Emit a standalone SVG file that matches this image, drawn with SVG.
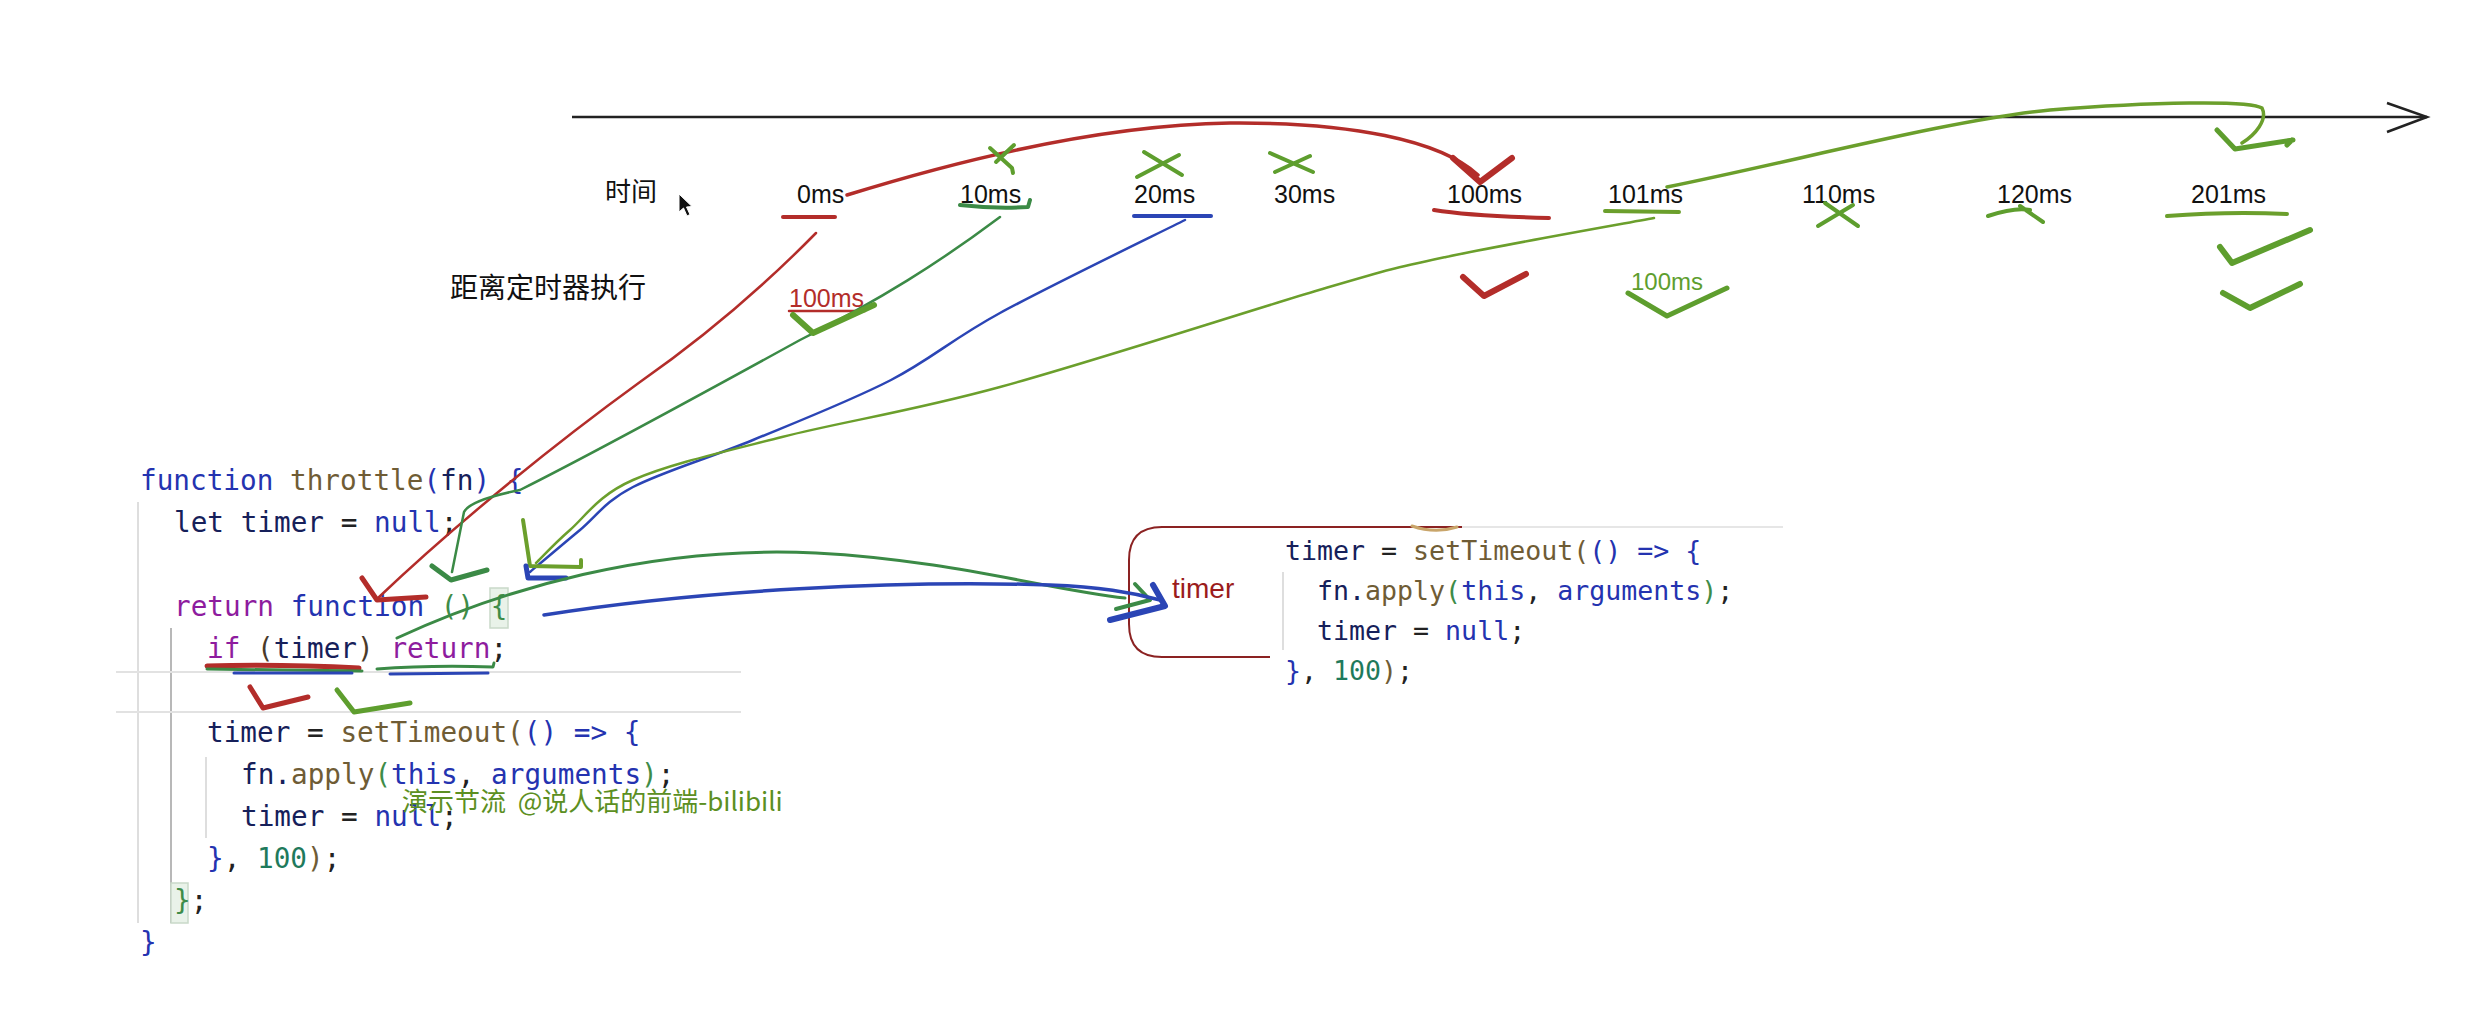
<svg xmlns="http://www.w3.org/2000/svg" width="2468" height="1016" viewBox="0 0 2468 1016">
<style>
.lbl{font-family:"Liberation Sans",Arial,sans-serif;font-size:25px;fill:#111}
.cjk{font-family:"Noto Sans CJK SC","Noto Sans",sans-serif;fill:#111}
.code{font-family:"DejaVu Sans Mono","Liberation Mono",monospace;font-size:27.7px;fill:#222}
.code2{font-family:"DejaVu Sans Mono","Liberation Mono",monospace;font-size:26.6px;fill:#222}
.b{fill:#2433b0}.n{fill:#16205a}.p{fill:#8e1c9e}.br{fill:#6f5c35}.g{fill:#3e8c48}.t{fill:#1f7a5c}.k{fill:#222}.dp{fill:#4a3a2a}
.s{fill:none;stroke-linecap:round;stroke-linejoin:round}
.red{stroke:#b32d2a}.dg{stroke:#3b8a46}.lg{stroke:#6b9f2c}.bl{stroke:#2b45b5}.cg{stroke:#5e9e2e}
.guide{stroke:#dedede;stroke-width:2}
</style>

<g id="timeline">
  <line x1="572" y1="117" x2="2427" y2="117" stroke="#222" stroke-width="2.5"/>
  <polyline points="2387,103 2427,117 2387,132" fill="none" stroke="#222" stroke-width="2.5"/>
  <text class="cjk" x="605" y="201" font-size="26">时间</text>
  <polygon points="679,194 679,212 683.5,208 687,216 690,214.5 686.5,207 692,206.5" fill="#111" stroke="#fff" stroke-width="1"/>
  <text class="cjk" x="450" y="298" font-size="28">距离定时器执行</text>
  <text class="lbl" x="797" y="203">0ms</text>
  <text class="lbl" x="960" y="203">10ms</text>
  <text class="lbl" x="1134" y="203">20ms</text>
  <text class="lbl" x="1274" y="203">30ms</text>
  <text class="lbl" x="1447" y="203">100ms</text>
  <text class="lbl" x="1608" y="203">101ms</text>
  <text class="lbl" x="1802" y="203">110ms</text>
  <text class="lbl" x="1997" y="203">120ms</text>
  <text class="lbl" x="2191" y="203">201ms</text>
  <text class="lbl" x="789" y="307" style="fill:#b32d2a">100ms</text>
  <text class="lbl" x="1631" y="290" style="fill:#5e9e2e;font-size:24px">100ms</text>
</g>

<g id="code-left">
  <line class="guide" x1="138" y1="502" x2="138" y2="923"/>
  <line x1="171" y1="628" x2="171" y2="923" stroke="#b8b8b8" stroke-width="2"/>
  <line class="guide" x1="206" y1="757" x2="206" y2="838"/>
  <line x1="116" y1="672" x2="741" y2="672" stroke="#e2e2e2" stroke-width="2"/>
  <line x1="116" y1="712" x2="741" y2="712" stroke="#e2e2e2" stroke-width="2"/>
  <rect x="490" y="588" width="18" height="40" fill="#e9f2e9" stroke="#c9d9c9" stroke-width="1.5"/>
  <rect x="171" y="883" width="17" height="40" fill="#e9f2e9" stroke="#c9d9c9" stroke-width="1.5"/>
  <text class="code" x="140" y="490"><tspan class="b">function</tspan> <tspan class="br">throttle</tspan><tspan class="b">(</tspan><tspan class="n">fn</tspan><tspan class="b">)</tspan> <tspan class="b">{</tspan></text>
  <text class="code" x="174" y="532"><tspan class="n">let</tspan> <tspan class="n">timer</tspan> <tspan class="k">=</tspan> <tspan class="b">null</tspan><tspan class="k">;</tspan></text>
  <text class="code" x="174" y="616"><tspan class="p">return</tspan> <tspan class="b">function</tspan> <tspan class="g">()</tspan> <tspan class="g">{</tspan></text>
  <text class="code" x="207" y="658"><tspan class="p">if</tspan> <tspan class="dp">(</tspan><tspan class="n">timer</tspan><tspan class="dp">)</tspan> <tspan class="p">return</tspan><tspan class="k">;</tspan></text>
  <text class="code" x="207" y="742"><tspan class="n">timer</tspan> <tspan class="k">=</tspan> <tspan class="br">setTimeout(</tspan><tspan class="b">()</tspan> <tspan class="b">=&gt;</tspan> <tspan class="b">{</tspan></text>
  <text class="code" x="241" y="784"><tspan class="n">fn.</tspan><tspan class="br">apply</tspan><tspan class="g">(</tspan><tspan class="b">this</tspan><tspan class="k">,</tspan> <tspan class="b">arguments</tspan><tspan class="g">)</tspan><tspan class="k">;</tspan></text>
  <text class="code" x="241" y="826"><tspan class="n">timer</tspan> <tspan class="k">=</tspan> <tspan class="b">null</tspan><tspan class="k">;</tspan></text>
  <text class="code" x="207" y="868"><tspan class="b">}</tspan><tspan class="k">,</tspan> <tspan class="t">100</tspan><tspan class="br">)</tspan><tspan class="k">;</tspan></text>
  <text class="code" x="174" y="910"><tspan class="g">}</tspan><tspan class="k">;</tspan></text>
  <text class="code" x="140" y="952"><tspan class="b">}</tspan></text>
</g>

<g id="code-right">
  <line x1="1457" y1="527" x2="1783" y2="527" stroke="#e6e6e6" stroke-width="2"/>
  <line class="guide" x1="1283" y1="572" x2="1283" y2="650"/>
  <text class="code2" x="1285" y="560"><tspan class="n">timer</tspan> <tspan class="k">=</tspan> <tspan class="br">setTimeout(</tspan><tspan class="b">()</tspan> <tspan class="b">=&gt;</tspan> <tspan class="b">{</tspan></text>
  <text class="code2" x="1317" y="600"><tspan class="n">fn.</tspan><tspan class="br">apply</tspan><tspan class="g">(</tspan><tspan class="b">this</tspan><tspan class="k">,</tspan> <tspan class="b">arguments</tspan><tspan class="g">)</tspan><tspan class="k">;</tspan></text>
  <text class="code2" x="1317" y="640"><tspan class="n">timer</tspan> <tspan class="k">=</tspan> <tspan class="b">null</tspan><tspan class="k">;</tspan></text>
  <text class="code2" x="1285" y="680"><tspan class="b">}</tspan><tspan class="k">,</tspan> <tspan class="t">100</tspan><tspan class="br">)</tspan><tspan class="k">;</tspan></text>
  <path d="M1462,527 L1162,527 Q1129,527 1129,560 L1129,624 Q1129,657 1162,657 L1270,657" fill="none" stroke="#8b2222" stroke-width="2"/>
  <path class="s" d="M1412,526 Q1435,534 1457,527" stroke="#c9a56a" stroke-width="3"/>
  <text class="lbl" x="1172" y="598" style="fill:#9b1c1c;font-size:28px">timer</text>
</g>

<g id="connectors">
  <!-- underlines -->
  <path class="s red" stroke-width="4" d="M783,217 L835,217"/>
  <path class="s dg" stroke-width="4" d="M960,205 Q995,209 1028,207 L1030,200"/>
  <path class="s bl" stroke-width="4" d="M1134,216 L1211,216"/>
  <path class="s red" stroke-width="4" d="M1434,210 Q1470,216 1549,218"/>
  <path class="s lg" stroke-width="4" d="M1605,211 L1679,212"/>
  <path class="s lg" stroke-width="4" d="M2167,216 Q2230,211 2287,214"/>
  <path class="s red" stroke-width="2.5" d="M789,311 L865,311"/>
  <path class="s red" stroke-width="5" d="M207,666 Q280,664 359,668"/>
  <path class="s dg" stroke-width="3" d="M207,669 L362,671"/>
  <path class="s bl" stroke-width="3" d="M234,673 L352,673"/>
  <path class="s dg" stroke-width="3" d="M377,669 Q430,665 493,667 L494,663"/>
  <path class="s bl" stroke-width="3" d="M390,674 L488,673"/>

  <!-- red arc 0ms to 100ms -->
  <path class="s red" stroke-width="3.5" d="M847,195 C960,160 1100,125 1230,123 C1350,122 1440,140 1478,175"/>
  <path class="s red" stroke-width="6" d="M1453,158 L1480,182 L1512,158"/>
  <!-- red line 0ms to code -->
  <path class="s red" stroke-width="2.5" d="M816,233 C760,290 700,340 640,382 C560,440 460,520 378,598"/>
  <path class="s red" stroke-width="5" d="M362,578 L377,600 L426,597"/>
  <!-- dark green line 10ms to code -->
  <path class="s dg" stroke-width="2.5" d="M1000,217 C940,262 880,300 800,340 C700,395 600,450 520,490 Q470,500 464,512 L452,572"/>
  <path class="s dg" stroke-width="5" d="M432,566 L451,580 L487,570"/>
  <!-- blue line 20ms to code -->
  <path class="s bl" stroke-width="2.5" d="M1185,220 C1154,235.5 1049,286.3 1000,313 C951,339.7 932,358.8 891,380 C849.8,401.2 796,422.2 753,440 C710,457.8 661.8,472 633,487 C604.2,502 597,515.8 580,530 C562.8,544.2 538.3,565 530,572"/>
  <!-- light green line 101ms to code -->
  <path class="s lg" stroke-width="2.5" d="M1654,218 C1619,224.5 1502,245 1446,257 C1390,269 1393,268.3 1319,290 C1245,312 1089.5,362.5 1000,387 C910.5,411.5 843,421.5 782,437 C721,452.5 668,464.5 633,480 C597.7,495.5 586,516 570,530 C554,544 541.7,557.5 536,563"/>
  <path class="s lg" stroke-width="4" d="M523,520 L530,566 L581,567 L581,560"/>
  <path class="s bl" stroke-width="5" d="M526,566 L528,578 L566,578"/>
  <!-- light green arc 101ms to 201ms -->
  <path class="s lg" stroke-width="3.5" d="M1667,187 C1800,160 1950,120 2050,110 C2150,102 2250,100 2262,108 C2268,120 2255,135 2242,143"/>
  <path class="s cg" stroke-width="5" d="M2217,130 L2235,149 L2293,140 M2287,145 L2292,140"/>
  <!-- dark green arc to timer box -->
  <path class="s dg" stroke-width="3" d="M397,638 C500,590 650,545 816,553 C950,560 1050,590 1125,598"/>
  <path class="s dg" stroke-width="4" d="M1135,584 L1150,600 L1116,609"/>
  <!-- blue arc to timer box -->
  <path class="s bl" stroke-width="3.5" d="M544,615 C700,590 900,580 1050,585 C1100,587 1130,592 1160,600"/>
  <path class="s bl" stroke-width="6" d="M1153,585 L1165,606 L1110,620"/>
</g>

<g id="marks">
  <path class="s cg" stroke-width="4" d="M990,148 L1012,168 L1013,173 M1014,145 L996,162"/>
  <path class="s cg" stroke-width="4" d="M1144,152 L1182,175 M1179,155 L1137,177"/>
  <path class="s cg" stroke-width="4" d="M1270,153 L1313,172 M1310,156 L1275,172"/>
  <path class="s cg" stroke-width="4" d="M1825,203 L1858,226 M1853,205 L1818,226"/>
  <path class="s cg" stroke-width="4" d="M1988,216 Q2015,207 2030,210 M2020,206 L2043,222"/>
  <path class="s red" stroke-width="6" d="M1463,277 L1484,296 L1526,274"/>
  <path class="s cg" stroke-width="5" d="M1628,293 L1667,316 L1727,288"/>
  <path class="s cg" stroke-width="6" d="M793,315 L813,333 L874,305"/>
  <path class="s cg" stroke-width="6" d="M2220,247 L2232,263 L2310,230"/>
  <path class="s cg" stroke-width="6" d="M2223,293 L2250,308 L2300,284"/>
  <path class="s red" stroke-width="5" d="M250,687 L263,708 L308,697"/>
  <path class="s cg" stroke-width="5" d="M337,690 L354,712 L410,703"/>
  <text class="cjk" x="402" y="811" font-size="26" xml:space="preserve" style="fill:#5c8f22">演示节流  @说人话的前端-bilibili</text>
</g>
</svg>
